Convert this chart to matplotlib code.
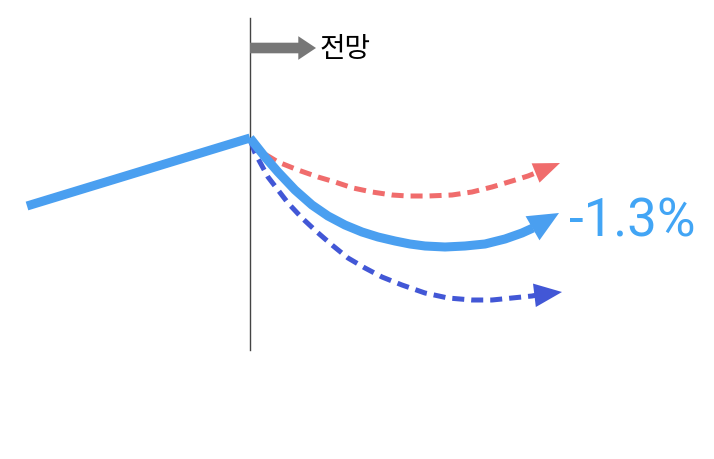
import matplotlib.pyplot as plt

plt.rcParams['font.family'] = ['Noto Sans CJK KR', 'DejaVu Sans']

# schematic in picture units (x right, y down)
past_x = [27, 250]
past_y = [206, 138]

base_x = [250, 265, 278, 295, 312, 328, 345, 362, 378, 395, 410, 425, 445,
          465, 485, 505, 522, 533]
base_y = [138, 157, 172, 190, 205, 216, 225, 232, 237, 241, 244, 246, 247,
          246, 244, 239, 233, 228]
base_tip = (559, 213)

high_x = [252, 258, 278, 298, 318, 335, 353, 372, 392, 408, 428, 452, 472,
          492, 512, 528, 538]
high_y = [142, 150, 162, 170, 177, 182, 188, 192, 195, 196, 196, 195, 192,
          187, 181, 176, 172]
high_tip = (560, 163)

low_x = [251, 255, 268, 278, 288, 302, 317, 332, 348, 365, 382, 402, 425,
         448, 472, 492, 512, 532, 537]
low_y = [142, 153, 177, 190, 203, 218, 232, 245, 258, 268, 277, 285, 293,
         298, 300, 300, 298, 296, 295]
low_tip = (562, 292)

label_text = '-1.3%'
outlook_text = '전망'

C_BASE = '#4a9ff0'
C_HIGH = '#f06c6c'
C_LOW = '#4257d6'
C_LABEL = '#42a5f5'

fig = plt.figure(figsize=(7.14, 4.59), dpi=100)
ax = fig.add_axes([0, 0, 1, 1])
ax.set_xlim(0, 714)
ax.set_ylim(459, 0)
ax.axis('off')

# divider
ax.plot([250, 250], [18, 350], color='#444444', lw=1.0, zorder=1)

# outlook arrow
ax.annotate('', xy=(316, 48), xytext=(250, 48),
            arrowprops=dict(arrowstyle='simple,head_length=0.75,tail_width=0.45,head_width=1.0',
                            color='#777777', lw=0, shrinkA=0, shrinkB=0,
                            mutation_scale=17))
ax.text(320, 49, outlook_text, fontsize=20, va='center', ha='left',
        color='black', fontweight='medium')

dash = (0, (2.4, 1.4))
ax.plot(high_x, high_y, color=C_HIGH, lw=3.6, ls=dash, dash_capstyle='butt',
        dash_joinstyle='round', zorder=2)
ax.plot(low_x, low_y, color=C_LOW, lw=3.6, ls=dash, dash_capstyle='butt',
        dash_joinstyle='round', zorder=2)
ax.plot(past_x, past_y, color=C_BASE, lw=6.5, solid_capstyle='butt',
        solid_joinstyle='miter', zorder=3)
ax.plot(base_x, base_y, color=C_BASE, lw=6.5, solid_capstyle='butt',
        solid_joinstyle='round', zorder=3)


def head(xs, ys, tip, color, length, width):
    ax.annotate('', xy=tip, xytext=(xs[-1], ys[-1]),
                arrowprops=dict(arrowstyle=f'-|>,head_length={length},head_width={width}',
                                color=color, lw=0, shrinkA=0, shrinkB=0,
                                mutation_scale=10), zorder=4)


head(high_x, high_y, high_tip, C_HIGH, 1.9, 0.75)
head(low_x, low_y, low_tip, C_LOW, 2.0, 0.85)
head(base_x, base_y, base_tip, C_BASE, 2.2, 1.0)

ax.text(569, 222, label_text, fontsize=38, color=C_LABEL, va='center',
        ha='left', family='Roboto')

fig.savefig('out.png')
